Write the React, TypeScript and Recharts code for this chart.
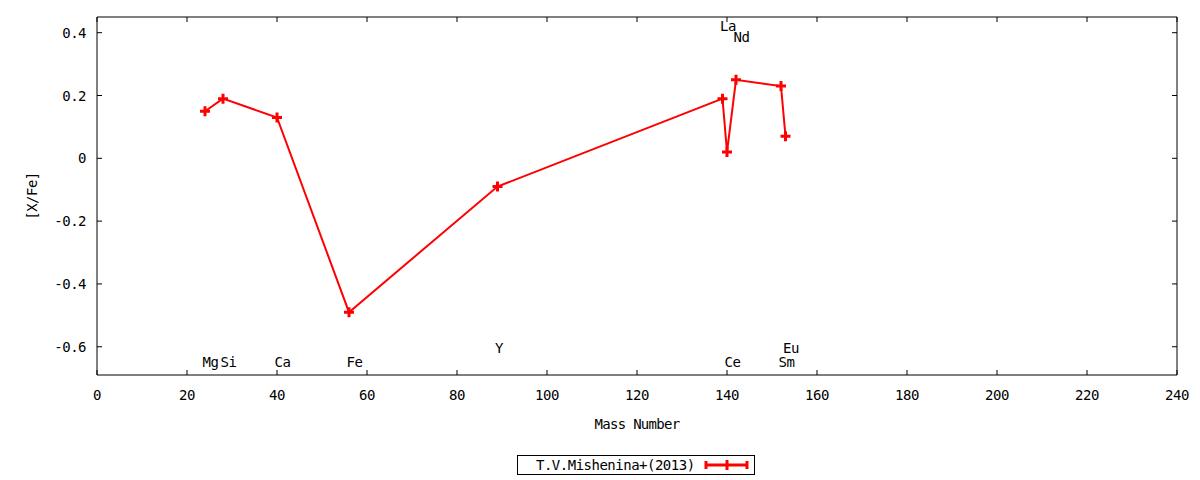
import { ComposedChart, Line, Scatter, XAxis, YAxis } from "recharts";

const masses = [24, 28, 40, 56, 89, 139, 140, 142, 152, 153];
const ratios = [0.15, 0.19, 0.13, -0.49, -0.09, 0.19, 0.02, 0.25, 0.23, 0.07];

const labelNames = ["Mg", "Si", "Ca", "Fe", "Y", "La", "Ce", "Nd", "Sm", "Eu"];
const labelMass = [24, 28, 40, 56, 89, 139, 140, 142, 152, 153];
const labelY = [-0.65, -0.65, -0.65, -0.65, -0.605, 0.42, -0.65, 0.385, -0.65, -0.605];

const xTicks = [0, 20, 40, 60, 80, 100, 120, 140, 160, 180, 200, 220, 240];
const yTicks = [-0.6, -0.4, -0.2, 0, 0.2, 0.4];

const seriesName = "T.V.Mishenina+(2013)";

const points = masses.map((mass, i) => ({ mass, value: ratios[i] }));
const labels = labelNames.map((name, i) => ({ name, mass: labelMass[i], value: labelY[i] }));

const FONT = "'DejaVu Sans Mono', monospace";
const RED = "#ff0000";
const textStyle = { fontFamily: FONT, fontSize: 14, letterSpacing: -0.5, fill: "#000" };

function Plus({ cx, cy }: { cx?: number; cy?: number }) {
  if (cx == null || cy == null) return null;
  return (
    <path d={`M${cx - 5},${cy}H${cx + 5}M${cx},${cy - 5}V${cy + 5}`} stroke={RED} strokeWidth={3} fill="none" />
  );
}

function fmtY(v: number) {
  if (v === 0) return "0";
  return v.toFixed(1);
}

function BottomTick(props: any) {
  const { x, y, payload } = props;
  return (
    <g>
      <line x1={x} x2={x} y1={y} y2={y - 5} stroke="#000" />
      <text x={x} y={y + 20} textAnchor="middle" dominantBaseline="central" style={textStyle}>
        {payload.value}
      </text>
    </g>
  );
}

function TopTick(props: any) {
  const { x, y } = props;
  return <line x1={x} x2={x} y1={y} y2={y + 5} stroke="#000" />;
}

function LeftTick(props: any) {
  const { x, y, payload } = props;
  return (
    <g>
      <line x1={x} x2={x + 5} y1={y} y2={y} stroke="#000" />
      <text x={x - 11} y={y} textAnchor="end" dominantBaseline="central" style={textStyle}>
        {fmtY(payload.value)}
      </text>
    </g>
  );
}

function RightTick(props: any) {
  const { x, y } = props;
  return <line x1={x} x2={x - 5} y1={y} y2={y} stroke="#000" />;
}

function ElementLabel(props: any) {
  const { cx, cy, payload } = props;
  if (cx == null || cy == null) return null;
  return (
    <text x={cx - 2.5} y={cy} textAnchor="start" dominantBaseline="central" style={textStyle}>
      {payload.name}
    </text>
  );
}

function KeyBox() {
  return (
    <div
      style={{
        position: "absolute",
        left: 517,
        top: 455,
        width: 236,
        height: 18,
        border: "1px solid #000",
        background: "#fff",
        fontFamily: FONT,
        fontSize: 14,
        letterSpacing: -0.5,
      }}
    >
      <span style={{ position: "absolute", left: 18, top: 0, lineHeight: "18px" }}>{seriesName}</span>
      <svg width={236} height={18} style={{ position: "absolute", left: 0, top: 0 }}>
        <line x1={188} x2={229} y1={9} y2={9} stroke={RED} strokeWidth={3} />
        <line x1={188} x2={188} y1={5} y2={13} stroke={RED} strokeWidth={3} />
        <line x1={229} x2={229} y1={5} y2={13} stroke={RED} strokeWidth={3} />
        <line x1={209} x2={209} y1={4} y2={14} stroke={RED} strokeWidth={3} />
      </svg>
    </div>
  );
}

export default function App() {
  return (
    <div style={{ position: "absolute", left: 0, top: 0, width: 1200, height: 480, background: "#fff" }}>
      <ComposedChart width={1200} height={480} margin={{ top: 16, right: 22, bottom: 75, left: 0 }}>
        <XAxis
          xAxisId={0}
          dataKey="mass"
          type="number"
          domain={[0, 240]}
          ticks={xTicks}
          height={30}
          axisLine={{ stroke: "#000" }}
          tickLine={false}
          tickSize={0}
          tickMargin={0}
          tick={<BottomTick />}
          interval={0}
          allowDataOverflow
        />
        <XAxis
          xAxisId="top"
          orientation="top"
          dataKey="mass"
          type="number"
          domain={[0, 240]}
          ticks={xTicks}
          height={1}
          axisLine={{ stroke: "#000" }}
          tickLine={false}
          tickSize={0}
          tickMargin={0}
          tick={<TopTick />}
          interval={0}
          allowDataOverflow
        />
        <YAxis
          yAxisId={0}
          type="number"
          domain={[-0.69, 0.45]}
          ticks={yTicks}
          width={97}
          axisLine={{ stroke: "#000" }}
          tickLine={false}
          tickSize={0}
          tickMargin={0}
          tick={<LeftTick />}
          interval={0}
          allowDataOverflow
        />
        <YAxis
          yAxisId="right"
          orientation="right"
          type="number"
          domain={[-0.69, 0.45]}
          ticks={yTicks}
          width={1}
          axisLine={{ stroke: "#000" }}
          tickLine={false}
          tickSize={0}
          tickMargin={0}
          tick={<RightTick />}
          interval={0}
          allowDataOverflow
        />
        <Scatter
          xAxisId={0}
          yAxisId={0}
          data={labels}
          dataKey="value"
          shape={<ElementLabel />}
          isAnimationActive={false}
          legendType="none"
        />
        <Line
          xAxisId={0}
          yAxisId={0}
          data={points}
          dataKey="value"
          type="linear"
          stroke={RED}
          strokeWidth={2}
          dot={<Plus />}
          activeDot={false}
          isAnimationActive={false}
          name={seriesName}
        />
      </ComposedChart>
      <div
        style={{
          position: "absolute",
          left: 537,
          top: 414,
          width: 200,
          textAlign: "center",
          fontFamily: FONT,
          fontSize: 14,
          letterSpacing: -0.7,
          lineHeight: "20px",
        }}
      >
        Mass Number
      </div>
      <div
        style={{
          position: "absolute",
          left: 32 - 50,
          top: 196 - 10,
          width: 100,
          height: 20,
          lineHeight: "20px",
          textAlign: "center",
          transform: "rotate(-90deg)",
          fontFamily: FONT,
          fontSize: 14,
          letterSpacing: -0.5,
        }}
      >
        [X/Fe]
      </div>
      <KeyBox />
    </div>
  );
}
